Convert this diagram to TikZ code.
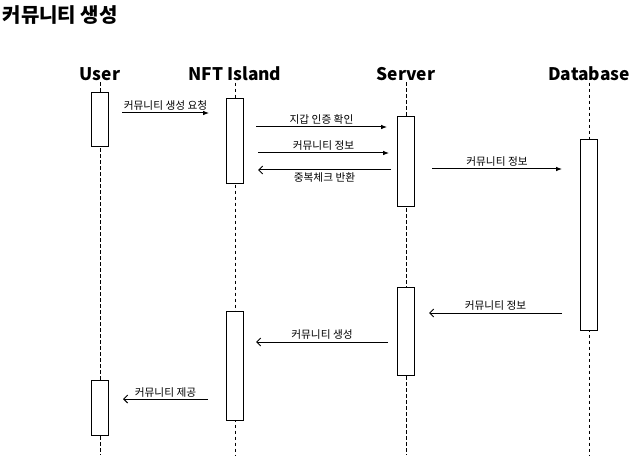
\documentclass[tikz,border=0pt]{standalone}
\usepackage{fontspec}
\setmainfont{Noto Sans CJK KR}
\usetikzlibrary{arrows.meta}

\begin{document}
\begin{tikzpicture}[x=0.75pt,y=-0.75pt,
    head/.style={font=\fontsize{13}{15}\selectfont\bfseries, inner sep=1pt},
    msg/.style={font=\fontsize{8}{9}\selectfont, inner sep=1.5pt},
    act/.style={draw, line width=0.75pt, fill=white, minimum width=12.75pt, inner sep=0pt},
    life/.style={dash pattern=on 2.5pt off 2pt, line width=0.7pt},
    call/.style={line width=0.75pt, -{Latex[length=4.5pt,width=3.5pt]}},
    reply/.style={line width=0.75pt, -{Straight Barb[length=3pt,width=6pt]}}]
    \useasboundingbox (0,0) rectangle (635,474);

    % title and lifeline heads %
    \node[head, font=\fontsize{15}{17}\selectfont\bfseries, anchor=west] (title) at (1,15) {커뮤니티 생성};
    \node[head] (user) at (100,74) {User};
    \node[head] (nft) at (235,74) {NFT Island};
    \node[head] (server) at (406,74) {Server};
    \node[head] (db) at (589,74) {Database};

    % lifelines %
    \coordinate (userEnd) at (100,455);
    \coordinate (nftEnd) at (235,455);
    \coordinate (serverEnd) at (406,455);
    \coordinate (dbEnd) at (589,455);
    \draw[life] (user.south) -- (userEnd);
    \draw[life] (nft.south) -- (nftEnd);
    \draw[life] (server.south) -- (serverEnd);
    \draw[life] (db.south) -- (dbEnd);

    % activation boxes %
    \node[act, minimum height=40.5pt] (user1) at (100,120) {};
    \node[act, minimum height=63.75pt] (nft1) at (235,141.5) {};
    \node[act, minimum height=66.75pt] (server1) at (406,161.5) {};
    \node[act, minimum height=142.5pt] (db1) at (589,235) {};
    \node[act, minimum height=66pt] (server2) at (406,331) {};
    \node[act, minimum height=81.75pt] (nft2) at (235,365.5) {};
    \node[act, minimum height=41.25pt] (user2) at (100,407.5) {};

    % messages %
    \coordinate (m1a) at (122,113);   \coordinate (m1b) at (209,113);
    \coordinate (m2a) at (256,127);   \coordinate (m2b) at (387,127);
    \coordinate (m3a) at (258,153);   \coordinate (m3b) at (389,153);
    \coordinate (m4a) at (391,170);   \coordinate (m4b) at (258,170);
    \coordinate (m5a) at (432,169);   \coordinate (m5b) at (562,169);
    \coordinate (m6a) at (562,313);   \coordinate (m6b) at (429,313);
    \coordinate (m7a) at (388,342);   \coordinate (m7b) at (256,342);
    \coordinate (m8a) at (208,399);   \coordinate (m8b) at (123,399);

    \draw[call] (m1a) -- node[msg, above] {커뮤니티 생성 요청} (m1b);
    \draw[call] (m2a) -- node[msg, above] {지갑 인증 확인} (m2b);
    \draw[call] (m3a) -- node[msg, above] {커뮤니티 정보} (m3b);
    \draw[reply] (m4a) -- node[msg, below] {중복체크 반환} (m4b);
    \draw[call] (m5a) -- node[msg, above] {커뮤니티 정보} (m5b);
    \draw[reply] (m6a) -- node[msg, above] {커뮤니티 정보} (m6b);
    \draw[reply] (m7a) -- node[msg, above] {커뮤니티 생성} (m7b);
    \draw[reply] (m8a) -- node[msg, above, inner sep=0.5pt] {커뮤니티 제공} (m8b);
\end{tikzpicture}
\end{document}
